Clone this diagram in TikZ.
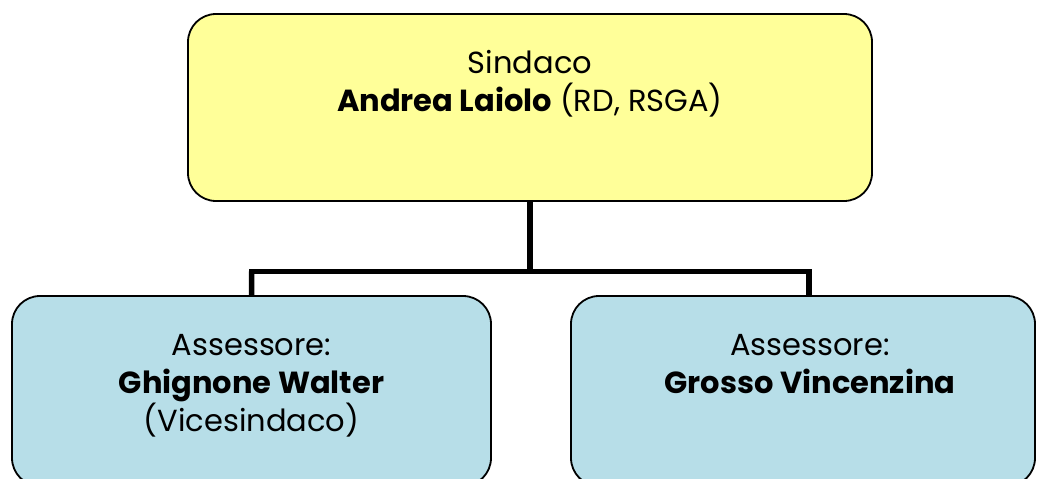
\documentclass[tikz,border=0pt]{standalone}
\usepackage{fontspec}
\setmainfont{Poppins}
\definecolor{boxyellow}{HTML}{FFFF99}
\definecolor{boxblue}{HTML}{B7DEE8}
\begin{document}
\begin{tikzpicture}[x=1pt,y=-1pt,
  box/.style={draw=black, line width=1.8pt, rounded corners=28pt, inner sep=0pt},
  txt/.style={align=center, anchor=base, font=\fontsize{30.5}{38}\selectfont, inner sep=0pt},
  conn/.style={line width=5.5pt, draw=black}]
\useasboundingbox (0,0) rectangle (1037,479);
\clip (0,0) rectangle (1037,479);
% boxes
\node[box, fill=boxyellow, minimum width=684pt, minimum height=187pt] (top) at (530,107.5) {};
\node[box, fill=boxblue, minimum width=479pt, minimum height=190pt] (left) at (251.5,391) {};
\node[box, fill=boxblue, minimum width=464pt, minimum height=190pt] (right) at (803,391) {};
% texts (anchor base = baseline of last line)
\node[txt] (t1) at (530,111) {Sindaco\\\textbf{Andrea Laiolo} (RD, RSGA)};
\node[txt] (t2) at (251.5,431) {Assessore:\\\textbf{Ghignone Walter}\\(Vicesindaco)};
\node[txt] (t3) at (810,393) {Assessore:\\\textbf{Grosso Vincenzina}};
% connectors
\coordinate (hub) at (530,271.5);
\coordinate (lj) at (251.7,271.5);
\coordinate (rj) at (809,271.5);
\coordinate (rt) at (809,296);
\draw[conn] (top.south) -- (hub);
\draw[conn, line cap=rect] (lj) -- (rj);
\draw[conn] (lj) -- (left.north);
\draw[conn] (rj) -- (rt);
\end{tikzpicture}
\end{document}
